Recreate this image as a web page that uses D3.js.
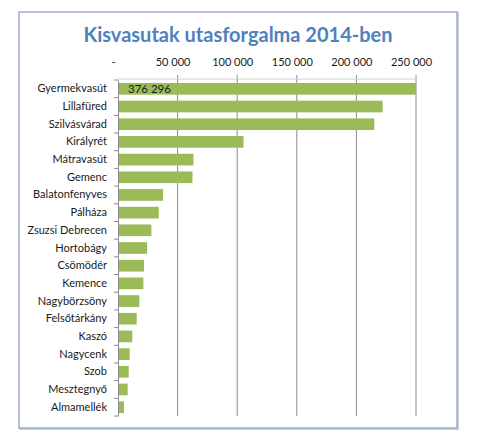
<!DOCTYPE html>
<html>
<head>
<meta charset="utf-8">
<script src="https://cdn.jsdelivr.net/npm/d3@7"></script>
<style>
  body { margin: 0; background: #fff; }
  text { font-family: Lato, "Open Sans", sans-serif; }
</style>
</head>
<body>
<div id="chart"></div>
<script>
// kisvasutak, utasok szama 2014
var lines = ["Gyermekvasút", "Lillafüred", "Szilvásvárad", "Királyrét", "Mátravasút",
  "Gemenc", "Balatonfenyves", "Pálháza", "Zsuzsi Debrecen", "Hortobágy", "Csömödér",
  "Kemence", "Nagybörzsöny", "Felsőtárkány", "Kaszó", "Nagycenk", "Szob",
  "Mesztegnyő", "Almamellék"];
var passengers = [376296, 222000, 215000, 105300, 63300, 62500, 37800, 34200, 28000,
  24400, 21800, 21300, 17900, 15700, 12000, 9800, 9000, 8100, 5000];
var tickValues = [0, 50000, 100000, 150000, 200000, 250000];
var tickLabels = ["-", "50 000", "100 000", "150 000", "200 000", "250 000"];

var width = 478, height = 445;

var svg = d3.select("#chart").append("svg")
    .attr("width", width)
    .attr("height", height);

// keret
svg.append("rect")
    .attr("x", 20).attr("y", 13)
    .attr("width", 438).attr("height", 416)
    .attr("fill", "none")
    .attr("stroke", "#c9d3e0")
    .attr("stroke-width", 2);
svg.append("rect")
    .attr("x", 19).attr("y", 12)
    .attr("width", 438).attr("height", 416)
    .attr("fill", "#fff")
    .attr("stroke", "#8fa3bd")
    .attr("stroke-width", 1.3);

svg.append("text")
    .attr("x", 238).attr("y", 42)
    .attr("text-anchor", "middle")
    .attr("fill", "#4f81bd")
    .attr("font-size", 20)
    .attr("font-weight", "bold")
    .text("Kisvasutak utasforgalma 2014-ben");

var x = d3.scaleLinear()
    .domain([0, 250000])
    .range([118, 416])
    .clamp(true);

var y = d3.scaleBand()
    .domain(lines)
    .range([80, 416])
    .paddingInner(0.34)
    .paddingOuter(0.17);

// racsvonalak
svg.selectAll("line.grid")
    .data(tickValues.slice(1))
    .enter().append("line")
    .attr("class", "grid")
    .attr("x1", function(d){ return x(d); })
    .attr("x2", function(d){ return x(d); })
    .attr("y1", 75)
    .attr("y2", 416)
    .attr("stroke", "#8c8c8c")
    .attr("stroke-width", 1);

svg.append("line")
    .attr("x1", 118).attr("x2", 416)
    .attr("y1", 79).attr("y2", 79)
    .attr("stroke", "#d0d0d0");

var xAxis = d3.axisTop(x)
    .tickValues(tickValues)
    .tickSize(0)
    .tickFormat(function(d, i){ return tickLabels[i]; });

var xg = svg.append("g")
    .attr("transform", "translate(-5,69)")
    .call(xAxis);
xg.select(".domain").remove();
xg.selectAll("text")
    .attr("dy", 0)
    .attr("font-family", "Lato, sans-serif")
    .attr("font-size", 11)
    .attr("fill", "#1a1a1a");

svg.selectAll("rect.bar")
    .data(passengers)
    .enter().append("rect")
    .attr("class", "bar")
    .attr("x", x(0))
    .attr("y", function(d, i){ return y(lines[i]); })
    .attr("width", function(d){ return x(d) - x(0); })
    .attr("height", y.bandwidth())
    .attr("fill", "#9bbb59");

// levagott oszlop erteke
svg.append("text")
    .attr("x", x(0) + 10)
    .attr("y", y(lines[0]) + y.bandwidth() / 2)
    .attr("dy", "0.35em")
    .attr("font-size", 11.5)
    .attr("fill", "#1a1a1a")
    .text(d3.format(",")(passengers[0]).replace(",", " "));

// y tengely
var yAxis = d3.axisLeft(y).tickSize(0).tickPadding(11);
var yg = svg.append("g")
    .attr("transform", "translate(118,0)")
    .call(yAxis);
yg.select(".domain").attr("stroke", "#8c8c8c");
yg.selectAll("text")
    .attr("font-family", "Lato, sans-serif")
    .attr("font-size", 11)
    .attr("fill", "#1a1a1a");

var step = y.step();
var bounds = d3.range(lines.length + 1).map(function(i){ return 80 + i * step; });
svg.selectAll("line.ytick")
    .data(bounds)
    .enter().append("line")
    .attr("class", "ytick")
    .attr("x1", 114).attr("x2", 118)
    .attr("y1", function(d){ return d; })
    .attr("y2", function(d){ return d; })
    .attr("stroke", "#8c8c8c");
</script>
</body>
</html>
